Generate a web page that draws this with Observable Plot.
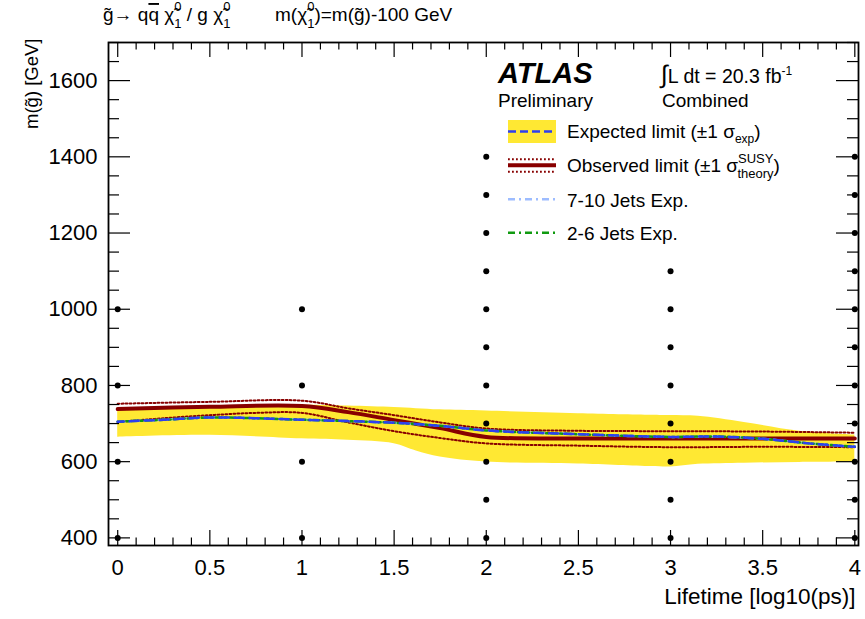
<!DOCTYPE html>
<html><head><meta charset="utf-8">
<script src="https://cdn.jsdelivr.net/npm/d3@7"></script>
<script src="https://cdn.jsdelivr.net/npm/@observablehq/plot@0.6"></script>
<style>
body{margin:0;background:#fff}
#chart{width:865px;height:619px}
svg text{font-family:"Liberation Sans",Arial,Helvetica,sans-serif}
</style>
</head><body><div id="chart"></div>
<script>
// ---------- data ----------
// yellow band: expected limit ±1 sigma
const bandLifetime = [0, 0.5, 1, 1.25, 1.5, 1.62, 1.75, 2, 2.5, 2.9, 3, 3.15, 3.4, 3.7, 4];
const bandLow      = [664, 669, 660, 656, 647, 628, 612, 599, 594, 587, 586, 593, 596, 598, 599];
const bandHigh     = [734, 742, 748, 746, 742, 739, 736, 733, 726, 722, 721, 719, 703, 680, 670];
// expected limit (blue dashed)
const expLifetime  = [0, 0.25, 0.5, 0.75, 1, 1.5, 1.75, 2, 2.5, 3, 3.25, 3.5, 3.75, 4];
const expMass      = [705, 710, 716, 714, 710, 702, 694, 682, 672, 665, 666, 660, 648, 639];
// 2-6 jets expected and 7-10 jets expected (overlapping the combined expected)
const jets26Mass   = [705, 710, 716, 714, 710, 702, 694, 682, 672, 665, 666, 660, 648, 639];
const jets710Mass  = [705, 710, 716, 714, 710, 702, 694, 682, 672, 665, 666, 660, 648, 639];
// observed limit and ±1 sigma theory
const obsLifetime  = [0, 0.5, 1, 1.25, 1.5, 1.75, 2, 2.5, 3, 3.5, 4];
const obsMass      = [738, 744, 746, 730, 709, 688, 665, 661, 661, 661, 661];
const obsUpMass    = [752, 757, 760, 740, 722, 703, 687, 681, 680, 679, 676];
const obsDnLifetime= [0, 0.25, 0.5, 0.75, 1, 1.25, 1.5, 1.75, 2, 2.5, 3, 3.5, 4];
const obsDnMass    = [704, 714, 722, 728, 728, 703, 680, 662, 648, 642, 638, 639, 638];
// signal grid points
const gridLifetimes = [0, 1, 2, 3, 4];
const gridMasses = [
  [400, 600, 800, 1000],
  [400, 600, 800, 1000],
  [400, 500, 600, 700, 800, 900, 1000, 1100, 1200, 1300, 1400],
  [400, 500, 600, 700, 800, 900, 1000, 1100],
  [400, 500, 600, 700, 800, 900, 1000, 1100, 1200, 1300, 1400]
];
// tick labels
const xTickLabels = [0, 0.5, 1, 1.5, 2, 2.5, 3, 3.5, 4];
const yTickLabels = [400, 600, 800, 1000, 1200, 1400, 1600];

// ---------- tables ----------
const band = bandLifetime.map((x, i) => ({x, lo: bandLow[i], hi: bandHigh[i]}));
const expd = expLifetime.map((x, i) => ({x, y: expMass[i]}));
const j26 = expLifetime.map((x, i) => ({x, y: jets26Mass[i]}));
const j710 = expLifetime.map((x, i) => ({x, y: jets710Mass[i]}));
const obs = obsLifetime.map((x, i) => ({x, y: obsMass[i]}));
const obsUp = obsLifetime.map((x, i) => ({x, y: obsUpMass[i]}));
const obsDn = obsDnLifetime.map((x, i) => ({x, y: obsDnMass[i]}));
const grid = gridLifetimes.flatMap((x, i) => gridMasses[i].map(y => ({x, y})));

const W = 865, H = 619, mL = 108, mR = 7, mT = 42, mB = 74;
const fW = W - mL - mR, fH = H - mT - mB;
const xMinor = d3.range(0, 4.0001, 0.1).map(v => +v.toFixed(2)).filter(v => !xTickLabels.includes(v));
const yMinor = d3.range(400, 1701, 50).filter(v => !yTickLabels.includes(v));

const YEL = "#ffe833", RED = "#880000", BLUE = "#2f3ff0", GREEN = "#109a10", LBLUE = "#9dbcff";
const DOT = "1.8 2.2";
const CURVE = "catmull-rom";
const dotted = {stroke: RED, strokeWidth: 2, strokeDasharray: DOT, curve: CURVE};

const svg = Plot.plot({
  width: W, height: H,
  marginLeft: mL, marginRight: mR, marginTop: mT, marginBottom: mB,
  style: {fontFamily: "Liberation Sans, Arial, sans-serif", background: "#fff", color: "#000"},
  x: {domain: [-0.05, 4.02], label: null},
  y: {domain: [380, 1700], label: null},
  marks: [
    Plot.areaY(band, {x: "x", y1: "lo", y2: "hi", fill: YEL, curve: CURVE}),
    Plot.line(obsUp, {x: "x", y: "y", ...dotted}),
    Plot.line(obsDn, {x: "x", y: "y", ...dotted}),
    Plot.line(obs, {x: "x", y: "y", stroke: RED, strokeWidth: 4, curve: CURVE}),
    Plot.line(j710, {x: "x", y: "y", stroke: LBLUE, strokeWidth: 2.5, strokeDasharray: "7 4 2 4", curve: CURVE}),
    Plot.line(j26, {x: "x", y: "y", stroke: GREEN, strokeWidth: 2.5, strokeDasharray: "6 3 2 3", curve: CURVE}),
    Plot.line(expd, {x: "x", y: "y", stroke: BLUE, strokeWidth: 2.5, strokeDasharray: "9 6", strokeDashoffset: 3, curve: CURVE}),
    Plot.dot(grid, {x: "x", y: "y", r: 3, fill: "#000", stroke: null}),
    // ticks (inside, ROOT style) on all four sides
    Plot.tickY(yTickLabels, {y: d => d, insetRight: fW - 22, stroke: "#000", strokeWidth: 1.2}),
    Plot.tickY(yMinor, {y: d => d, insetRight: fW - 11, stroke: "#000", strokeWidth: 1.2}),
    Plot.tickY(yTickLabels, {y: d => d, insetLeft: fW - 22, stroke: "#000", strokeWidth: 1.2}),
    Plot.tickY(yMinor, {y: d => d, insetLeft: fW - 11, stroke: "#000", strokeWidth: 1.2}),
    Plot.tickX(xTickLabels, {x: d => d, insetTop: fH - 15, stroke: "#000", strokeWidth: 1.2}),
    Plot.tickX(xMinor, {x: d => d, insetTop: fH - 7.5, stroke: "#000", strokeWidth: 1.2}),
    Plot.tickX(xTickLabels, {x: d => d, insetBottom: fH - 15, stroke: "#000", strokeWidth: 1.2}),
    Plot.tickX(xMinor, {x: d => d, insetBottom: fH - 7.5, stroke: "#000", strokeWidth: 1.2}),
    Plot.frame({stroke: "#000", strokeWidth: 1.8}),
    Plot.axisY({ticks: yTickLabels, tickSize: 0, tickPadding: 11, fontSize: 22, label: null, tickFormat: d => String(d)}),
    Plot.axisX({ticks: xTickLabels, tickSize: 0, tickPadding: 14, fontSize: 22, label: null, tickFormat: d => String(d)}),
    Plot.text(["Lifetime [log10(ps)]"], {frameAnchor: "bottom-right", text: d => d, textAnchor: "end", dx: -3, dy: 58, fontSize: 22.5}),
    Plot.text(["m(g\u0303) [GeV]"], {frameAnchor: "top-left", text: d => d, textAnchor: "end", rotate: -90, dx: -84, dy: -4, fontSize: 18.5})
  ]
});
document.getElementById("chart").appendChild(svg);

// ---------- annotations with sub/superscripts ----------
const g = d3.select(svg).append("g").attr("fill", "#000").attr("text-anchor", "start");
function stacked(t, sup, sub, size, supDy, subDy, back) {
  t.append("tspan").attr("font-size", size).attr("dy", supDy).text(sup);
  t.append("tspan").attr("font-size", size).attr("dx", -back).attr("dy", subDy - supDy).text(sub);
}
// title
{
  const t = g.append("text").attr("x", 103).attr("y", 21).attr("font-size", 19);
  t.append("tspan").text("g\u0303\u2192 q");
  t.append("tspan").style("text-decoration", "overline").text("q");
  t.append("tspan").text(" \u03C7\u0303");
  stacked(t, "0", "1", 13, -10, 7, 7.2);
  t.append("tspan").attr("dy", -7).text(" / g \u03C7\u0303");
  stacked(t, "0", "1", 13, -10, 7, 7.2);
  const t2 = g.append("text").attr("x", 275).attr("y", 21).attr("font-size", 19);
  t2.append("tspan").text("m(\u03C7\u0303");
  stacked(t2, "0", "1", 13, -10, 7, 7.2);
  t2.append("tspan").attr("dy", -7).text(")=m(g\u0303)-100 GeV");
}
// ATLAS labels
g.append("text").attr("x", 498).attr("y", 83).attr("font-size", 29).attr("font-weight", "bold").attr("font-style", "italic").text("ATLAS");
g.append("text").attr("x", 498).attr("y", 107).attr("font-size", 19).text("Preliminary");
{
  const t = g.append("text").attr("x", 661).attr("y", 83).attr("font-size", 19.5);
  t.append("tspan").attr("font-size", 25).text("\u222B");
  t.append("tspan").attr("font-size", 19.5).text("L dt = 20.3 fb");
  t.append("tspan").attr("font-size", 12).attr("dy", -8).text("-1");
}
g.append("text").attr("x", 662).attr("y", 107).attr("font-size", 19).text("Combined");

// legend
const lx0 = 508, lx1 = 556, tx = 567;
g.append("rect").attr("x", lx0).attr("y", 120).attr("width", lx1 - lx0).attr("height", 23).attr("fill", YEL);
g.append("line").attr("x1", lx0).attr("x2", lx1).attr("y1", 131.5).attr("y2", 131.5).attr("stroke", BLUE).attr("stroke-width", 2.5).attr("stroke-dasharray", "8 4");
{
  const t = g.append("text").attr("x", tx).attr("y", 138).attr("font-size", 19);
  t.append("tspan").text("Expected limit (\u00B11 \u03C3");
  t.append("tspan").attr("font-size", 12).attr("dy", 5).text("exp");
  t.append("tspan").attr("dy", -5).text(")");
}
g.append("line").attr("x1", lx0).attr("x2", lx1).attr("y1", 165.3).attr("y2", 165.3).attr("stroke", RED).attr("stroke-width", 4);
g.append("line").attr("x1", lx0).attr("x2", lx1).attr("y1", 159.3).attr("y2", 159.3).attr("stroke", RED).attr("stroke-width", 2).attr("stroke-dasharray", DOT);
g.append("line").attr("x1", lx0).attr("x2", lx1).attr("y1", 171.7).attr("y2", 171.7).attr("stroke", RED).attr("stroke-width", 2).attr("stroke-dasharray", DOT);
{
  const t = g.append("text").attr("x", tx).attr("y", 171.5).attr("font-size", 19);
  t.append("tspan").text("Observed limit (\u00B11 \u03C3");
  t.append("tspan").attr("font-size", 13).attr("dy", -9).text("SUSY");
  t.append("tspan").attr("font-size", 13).attr("dx", -36).attr("dy", 15).text("theory");
  t.append("tspan").attr("dy", -6).text(")");
}
g.append("line").attr("x1", lx0).attr("x2", lx1).attr("y1", 199.3).attr("y2", 199.3).attr("stroke", LBLUE).attr("stroke-width", 2.5).attr("stroke-dasharray", "7 4 2 4");
g.append("text").attr("x", tx).attr("y", 206.5).attr("font-size", 19).text("7-10 Jets Exp.");
g.append("line").attr("x1", lx0).attr("x2", lx1).attr("y1", 232.7).attr("y2", 232.7).attr("stroke", GREEN).attr("stroke-width", 2.5).attr("stroke-dasharray", "7 4 2 4");
g.append("text").attr("x", tx).attr("y", 240).attr("font-size", 19).text("2-6 Jets Exp.");
</script>
</body></html>
